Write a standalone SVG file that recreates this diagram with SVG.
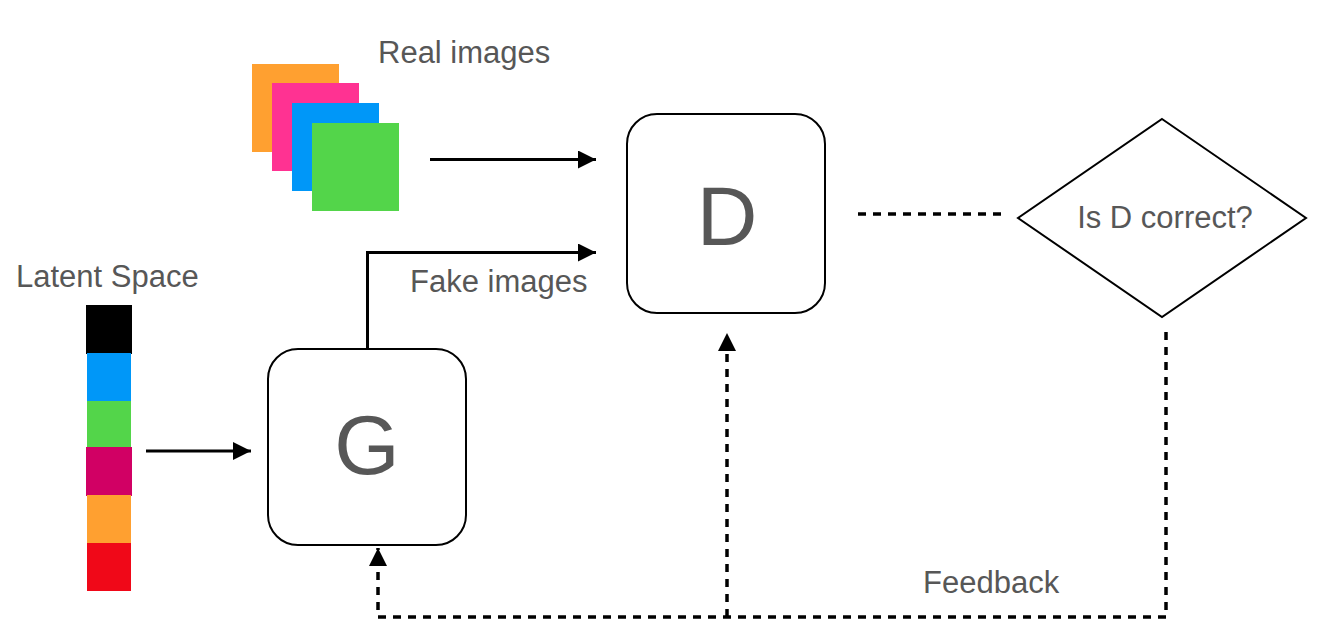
<svg xmlns="http://www.w3.org/2000/svg" width="1328" height="636" viewBox="0 0 1328 636">
<style>
.t{font-family:"Liberation Sans",Arial,sans-serif;fill:#575757;font-size:31px}
.big{font-size:84px;text-anchor:middle}
.box{fill:#fff;stroke:#000;stroke-width:2}
.solid{fill:none;stroke:#000;stroke-width:3}
.dash{fill:none;stroke:#000;stroke-width:3.5;stroke-dasharray:8 7}
</style>
<defs>
<marker id="ah" viewBox="0 0 10 10" refX="10" refY="5" markerWidth="19" markerHeight="18" markerUnits="userSpaceOnUse" orient="auto">
<path d="M0,0 L10,5 L0,10 Z" fill="#000"/>
</marker>
</defs>
<rect width="1328" height="636" fill="#fff"/>
<g id="real-images">
<rect x="252" y="64" width="87" height="88" fill="#FFA030"/>
<rect x="272" y="83" width="87" height="88" fill="#FF3292"/>
<rect x="292" y="103" width="87" height="88" fill="#0097F8"/>
<rect x="312" y="123" width="87" height="88" fill="#53D54A"/>
<text class="t" x="378" y="63">Real images</text>
</g>
<g id="latent-space">
<text class="t" x="16" y="287">Latent Space</text>
<rect x="86" y="305" width="46" height="49" fill="#000"/>
<rect x="87" y="353" width="44" height="48" fill="#0097F8"/>
<rect x="87" y="401" width="44" height="46" fill="#53D54A"/>
<rect x="86" y="447" width="46" height="49" fill="#D10064"/>
<rect x="87" y="495" width="44" height="48" fill="#FFA030"/>
<rect x="87" y="543" width="44" height="48" fill="#F00818"/>
</g>
<g id="G">
<rect class="box" x="268" y="349" width="198" height="196" rx="30"/>
<text class="t big" x="367" y="474">G</text>
</g>
<g id="D">
<rect class="box" x="627" y="114" width="198" height="199" rx="30"/>
<text class="t big" x="727" y="245">D</text>
</g>
<g id="decision">
<polygon class="box" points="1162,119 1306,218 1162,317 1018,218"/>
<text class="t" x="1165" y="228" text-anchor="middle">Is D correct?</text>
</g>
<g id="labels">
<text class="t" x="410" y="292">Fake images</text>
<text class="t" x="923" y="593">Feedback</text>
</g>
<g id="connectors">
<line class="solid" x1="430" y1="159.5" x2="596" y2="159.5" marker-end="url(#ah)"/>
<line class="solid" x1="146" y1="451" x2="251" y2="451" marker-end="url(#ah)"/>
<polyline class="solid" points="367.5,349 367.5,252.5 596,252.5" marker-end="url(#ah)"/>
<line class="dash" x1="858" y1="214" x2="1003" y2="214"/>
<polyline class="dash" points="1166,332 1166,617 378,617 378,548" marker-end="url(#ah)"/>
<line class="dash" x1="727" y1="617" x2="727" y2="333" marker-end="url(#ah)"/>
</g>
</svg>
